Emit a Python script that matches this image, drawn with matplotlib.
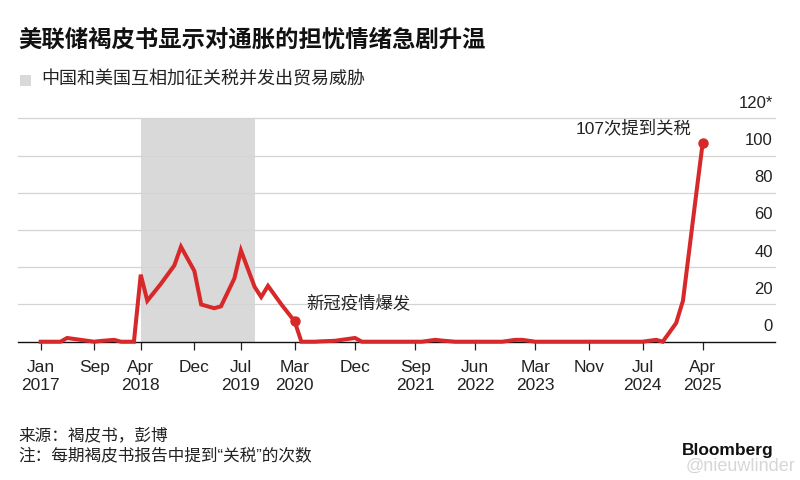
import pandas as pd
import matplotlib
matplotlib.use('Agg')
import matplotlib.pyplot as plt
from matplotlib.patches import Rectangle
from matplotlib import transforms

plt.rcParams['font.family'] = ['Liberation Sans', 'Noto Sans CJK SC']

# Beige Book mentions of "tariff" (reading of the picture)
dates = ['2017-01', '2017-03', '2017-04', '2017-05', '2017-07', '2017-09', '2017-10', '2017-12',
         '2018-01', '2018-03', '2018-04', '2018-05', '2018-07', '2018-09', '2018-10', '2018-12',
         '2019-01', '2019-03', '2019-04', '2019-06', '2019-07', '2019-09', '2019-10', '2019-11',
         '2020-01', '2020-03', '2020-04', '2020-06', '2020-07', '2020-09', '2020-10', '2020-12',
         '2021-01', '2021-03', '2021-04', '2021-06', '2021-07', '2021-09', '2021-10', '2021-12',
         '2022-01', '2022-03', '2022-04', '2022-06', '2022-07', '2022-09', '2022-10', '2022-12',
         '2023-01', '2023-03', '2023-04', '2023-06', '2023-07', '2023-09', '2023-10', '2023-11',
         '2024-01', '2024-03', '2024-04', '2024-06', '2024-07', '2024-09', '2024-10', '2024-12',
         '2025-01', '2025-03', '2025-04']
mentions = [0, 0, 0, 2, 1, 0, 0.4, 1,
            0, 0, 36, 22, 31, 41, 51, 38,
            20, 18, 19, 34, 49, 29.5, 24, 30,
            20, 11, 0, 0, 0.2, 0.5, 1, 2,
            0, 0, 0, 0, 0, 0, 0, 1,
            0.6, 0, 0, 0, 0, 0, 0, 1,
            1, 0, 0, 0, 0, 0, 0, 0,
            0, 0, 0, 0, 0, 1, 0, 10,
            22, 78, 107]

tick_dates = ['2017-01', '2017-09', '2018-04', '2018-12', '2019-07', '2020-03', '2020-12',
              '2021-09', '2022-06', '2023-03', '2023-11', '2024-07', '2025-04']
tick_labels = ['Jan\n2017', 'Sep', 'Apr\n2018', 'Dec', 'Jul\n2019', 'Mar\n2020', 'Dec',
               'Sep\n2021', 'Jun\n2022', 'Mar\n2023', 'Nov', 'Jul\n2024', 'Apr\n2025']
y_ticks = [0, 20, 40, 60, 80, 100, 120]
y_labels = ['0', '20', '40', '60', '80', '100', '120*']

shade_start, shade_end = '2018-04', '2019-09'
covid_date = '2020-03'

red = '#d7282a'
grey_shade = '#d9d9d9'
text_col = '#222222'

x = pd.to_datetime(dates)
s = pd.Series(mentions, index=x)

fig = plt.figure(figsize=(8, 4.8), dpi=100)
ax = fig.add_axes([0.0229, 0.2881, 0.9459, 0.4654])

ax.axvspan(pd.Timestamp(shade_start), pd.Timestamp(shade_end), color=grey_shade, zorder=0, lw=0)
for v in y_ticks[1:]:
    ax.axhline(v, color='#d4d4d4', lw=0.9, zorder=1, clip_on=False)
ax.axhline(0, color='#111111', lw=1.0, zorder=2, clip_on=False)

ax.plot(s.index, s.values, color=red, lw=2.9, zorder=3, clip_on=False,
        solid_joinstyle='miter')
ax.plot([s.index[-1]], [s.values[-1]], 'o', color=red, ms=6.5, zorder=4, clip_on=False)
cv = pd.Timestamp(covid_date)
ax.plot([cv], [s[cv]], 'o', color=red, ms=6.5, zorder=4, clip_on=False)

ax.set_xlim(pd.Timestamp('2016-09-21'), pd.Timestamp('2026-02-24'))
ax.set_ylim(0, 120)
for sp in ax.spines.values():
    sp.set_visible(False)

ax.set_xticks(pd.to_datetime(tick_dates))
ax.set_xticklabels(tick_labels, fontsize=12.5, color=text_col, linespacing=1.3)
ax.tick_params(axis='x', length=6, width=0.9, color='#222222', pad=7)
ax.set_yticks([])

# y labels sit above their gridlines, right-aligned inside the plot
trans = transforms.offset_copy(transforms.blended_transform_factory(ax.transAxes, ax.transData),
                               fig=fig, y=7.6, units='points')
for v, lab in zip(y_ticks, y_labels):
    ax.text(0.997, v, lab, transform=trans, ha='right', va='baseline',
            fontsize=12, color=text_col)

ax.annotate('107次提到关税', xy=(s.index[-1], s.values[-1]), xytext=(-8, 10.3),
            textcoords='offset points', ha='right', va='center', fontsize=12.5, color=text_col)
ax.annotate('新冠疫情爆发', xy=(cv, s[cv]), xytext=(8.4, 13.5),
            textcoords='offset points', ha='left', va='center', fontsize=12.5, color=text_col)

fig.text(0.0225, 1 - 40 / 480, '美联储褐皮书显示对通胀的担忧情绪急剧升温', fontsize=16.8,
         fontweight='bold', color='#111111', va='center', ha='left')
fig.add_artist(Rectangle((20 / 800, 1 - 86 / 480), 11 / 800, 11 / 480,
                         transform=fig.transFigure, color=grey_shade, lw=0))
fig.text(41 / 800, 1 - 80 / 480, '中国和美国互相加征关税并发出贸易威胁', fontsize=13,
         color=text_col, va='center', ha='left')

fig.text(0.0225, 1 - 435 / 480, '来源：褐皮书，彭博', fontsize=12, color=text_col, va='center')
fig.text(0.0225, 1 - 455 / 480, '注：每期褐皮书报告中提到“关税”的次数', fontsize=12,
         color=text_col, va='center')
fig.text(774 / 800, 1 - 451 / 480, 'Bloomberg', fontsize=12.5, fontweight='bold',
         color='#111111', va='center', ha='right')
fig.text(795 / 800, 1 - 466 / 480, '@nieuwlinder', fontsize=13, color='#bbbbbb',
         alpha=0.6, va='center', ha='right')

fig.savefig('out.png', dpi=100)
